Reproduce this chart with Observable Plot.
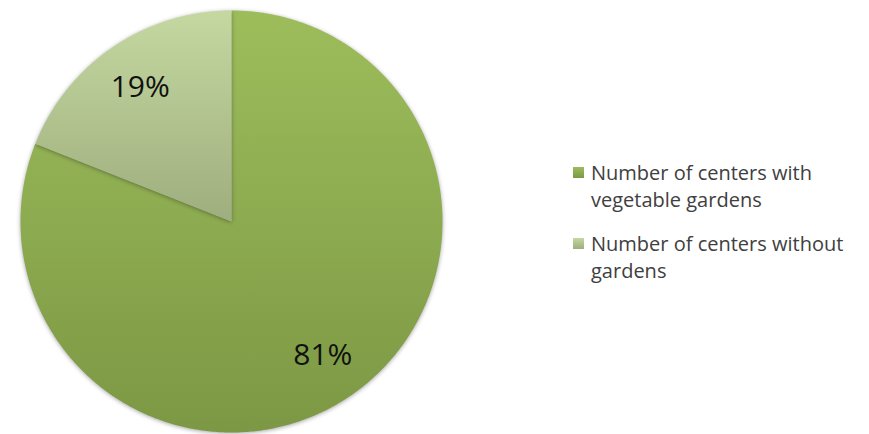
<!DOCTYPE html>
<html><head><meta charset="utf-8">
<script src="https://cdn.jsdelivr.net/npm/d3@7"></script>
<script src="https://cdn.jsdelivr.net/npm/@observablehq/plot@0.6"></script>
<style>
body{margin:0;background:#fff;}
#wrap{position:relative;width:869px;height:434px;overflow:hidden;}
#legend{position:absolute;left:573px;top:159px;font-family:"Open Sans",sans-serif;font-size:20px;color:#404040;}
.item{display:flex;align-items:flex-start;margin-bottom:17px;}
.sw{width:11px;height:11px;margin-top:8px;margin-right:7px;flex:none;}
.txt{line-height:27px;width:290px;white-space:nowrap;}
svg g[aria-label=line]{filter:drop-shadow(0px 1px 2px rgba(0,0,0,0.35));}
</style></head>
<body><div id="wrap"></div>
<script>
const categories = ["Number of centers with vegetable gardens", "Number of centers without gardens"];
const legendLines = [["Number of centers with", "vegetable gardens"], ["Number of centers without", "gardens"]];
const shares = [81, 19];
const valueLabels = ["81%", "19%"];
const topColors = ["#9dbd5b", "#c5d8a0"];
const bottomColors = ["#7c9844", "#9eae7e"];

const arcs = d3.pie().sort(null).value(d => d)(shares);
const slices = arcs.map((a, i) => {
  const pts = [{x: 0, y: 0}];
  const n = Math.max(8, Math.ceil((a.endAngle - a.startAngle) / 0.01));
  for (let k = 0; k <= n; k++) {
    const t = a.startAngle + (a.endAngle - a.startAngle) * k / n;
    pts.push({x: Math.sin(t), y: Math.cos(t)});
  }
  return pts;
});
const labelPts = arcs.map((a, i) => {
  const m = (a.startAngle + a.endAngle) / 2;
  return {x: 0.77 * Math.sin(m), y: 0.77 * Math.cos(m), label: valueLabels[i]};
});

const defs = () => {
  const d = d3.create("svg:defs");
  topColors.forEach((c, i) => {
    const g = d.append("linearGradient").attr("id", "g" + i).attr("x1", 0).attr("y1", 0).attr("x2", 0).attr("y2", 1);
    g.append("stop").attr("offset", "0%").attr("stop-color", c);
    g.append("stop").attr("offset", "100%").attr("stop-color", bottomColors[i]);
  });
  return d.node();
};

const cx = 231, cy = 221, R = 211;
const plot = Plot.plot({
  width: 869, height: 434,
  margin: 0,
  x: {domain: [-1, 1], range: [cx - R, cx + R], axis: null},
  y: {domain: [-1, 1], range: [cy + R, cy - R], axis: null},
  style: {background: "transparent"},
  marks: [
    defs,
    ...slices.map((s, i) => Plot.line(s, {x: "x", y: "y", fill: `url(#g${i})`, stroke: "none", curve: "linear-closed"})),
    Plot.text(labelPts, {x: "x", y: "y", text: "label", fontSize: 30, fill: "#111", fontFamily: "Open Sans", textAnchor: "middle"})
  ]
});
const wrap = document.getElementById("wrap");
wrap.appendChild(plot);

const legend = document.createElement("div");
legend.id = "legend";
categories.forEach((c, i) => {
  const item = document.createElement("div");
  item.className = "item";
  item.title = c;
  const sw = document.createElement("div");
  sw.className = "sw";
  sw.style.background = `linear-gradient(${topColors[i]}, ${bottomColors[i]})`;
  const t = document.createElement("div");
  t.className = "txt";
  t.innerHTML = legendLines[i].join("<br>");
  item.appendChild(sw); item.appendChild(t);
  legend.appendChild(item);
});
wrap.appendChild(legend);
</script>
</body></html>
